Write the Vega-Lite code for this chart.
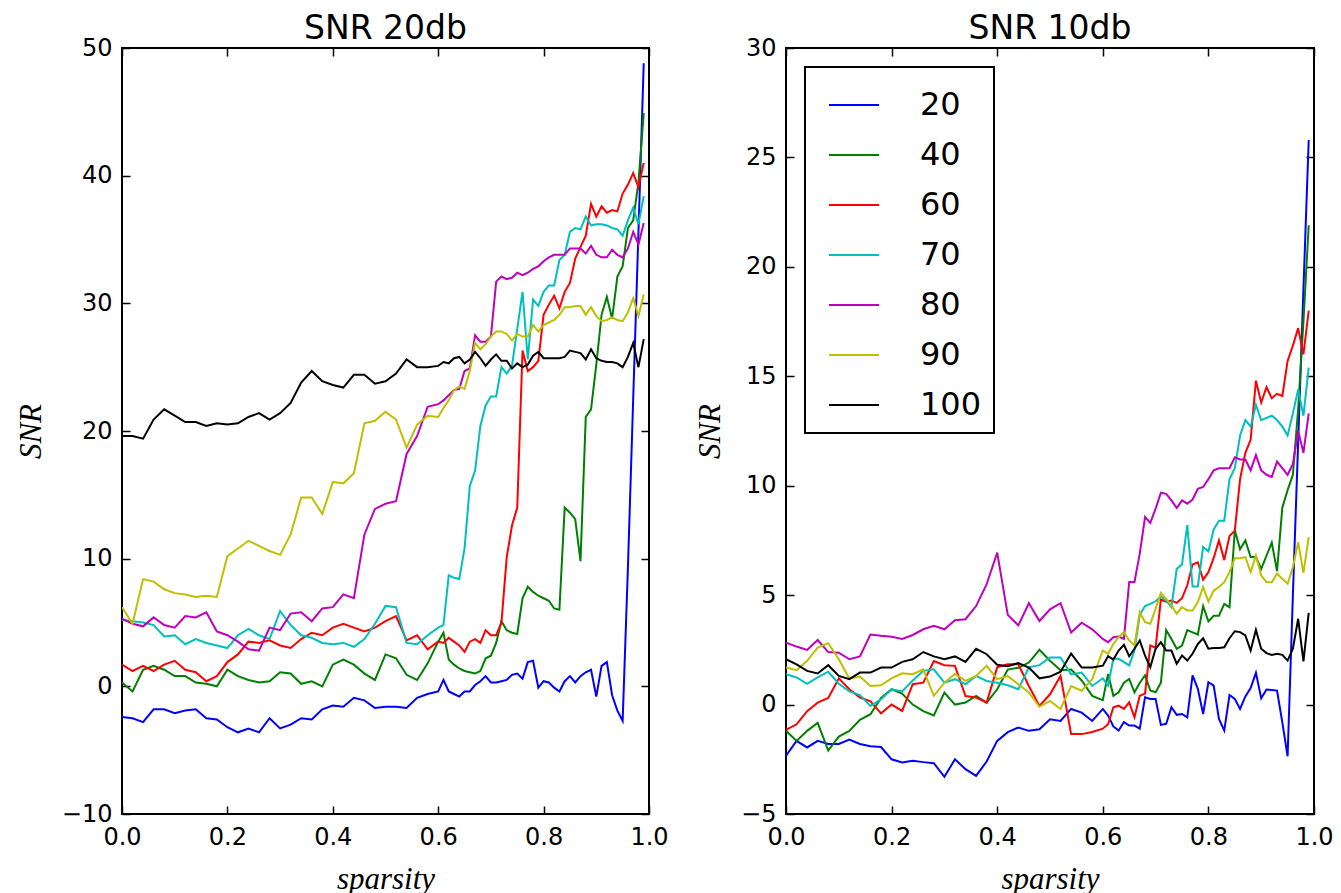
{
"$schema": "https://vega.github.io/schema/vega-lite/v6.json",
"background": "white",
"padding": {"left": 14, "top": 12, "right": 0, "bottom": 0},
"spacing": 23,
"datasets": {
"L": [
{"s":0.00,"n20":-2.4,"n40":0.3,"n60":1.7,"n70":5.2,"n80":5.3,"n90":6.2,"n100":19.6},
{"s":0.02,"n20":-2.5,"n40":-0.4,"n60":1.2,"n70":5.1,"n80":4.9,"n90":4.9,"n100":19.6},
{"s":0.04,"n20":-2.8,"n40":1.3,"n60":1.6,"n70":5.0,"n80":4.7,"n90":8.4,"n100":19.4},
{"s":0.06,"n20":-1.8,"n40":1.6,"n60":1.2,"n70":4.8,"n80":5.4,"n90":8.2,"n100":20.9},
{"s":0.08,"n20":-1.8,"n40":1.3,"n60":1.7,"n70":3.9,"n80":4.8,"n90":7.6,"n100":21.7},
{"s":0.10,"n20":-2.1,"n40":0.8,"n60":2.0,"n70":4.0,"n80":4.6,"n90":7.3,"n100":21.2},
{"s":0.12,"n20":-1.9,"n40":0.8,"n60":1.3,"n70":3.3,"n80":5.5,"n90":7.2,"n100":20.7},
{"s":0.14,"n20":-1.8,"n40":0.3,"n60":1.1,"n70":3.7,"n80":5.4,"n90":7.0,"n100":20.7},
{"s":0.16,"n20":-2.5,"n40":0.2,"n60":0.4,"n70":3.4,"n80":5.8,"n90":7.1,"n100":20.4},
{"s":0.18,"n20":-2.6,"n40":0.0,"n60":0.8,"n70":3.2,"n80":4.3,"n90":7.0,"n100":20.6},
{"s":0.20,"n20":-3.2,"n40":1.3,"n60":1.9,"n70":3.0,"n80":4.0,"n90":10.2,"n100":20.5},
{"s":0.22,"n20":-3.6,"n40":0.8,"n60":2.5,"n70":4.0,"n80":3.5,"n90":10.8,"n100":20.6},
{"s":0.24,"n20":-3.3,"n40":0.5,"n60":3.5,"n70":4.5,"n80":2.9,"n90":11.4,"n100":21.1},
{"s":0.26,"n20":-3.6,"n40":0.3,"n60":3.4,"n70":4.0,"n80":2.8,"n90":11.0,"n100":21.4},
{"s":0.28,"n20":-2.5,"n40":0.4,"n60":3.6,"n70":3.7,"n80":4.6,"n90":10.6,"n100":20.9},
{"s":0.30,"n20":-3.3,"n40":1.1,"n60":3.2,"n70":5.9,"n80":4.4,"n90":10.3,"n100":21.4},
{"s":0.32,"n20":-3.0,"n40":1.0,"n60":3.0,"n70":4.8,"n80":5.7,"n90":11.9,"n100":22.2},
{"s":0.34,"n20":-2.5,"n40":0.2,"n60":3.7,"n70":4.0,"n80":5.8,"n90":14.8,"n100":23.8},
{"s":0.36,"n20":-2.6,"n40":0.4,"n60":4.2,"n70":3.8,"n80":5.1,"n90":14.8,"n100":24.7},
{"s":0.38,"n20":-1.8,"n40":0.0,"n60":4.0,"n70":3.4,"n80":6.1,"n90":13.5,"n100":23.9},
{"s":0.40,"n20":-1.5,"n40":1.7,"n60":4.6,"n70":3.3,"n80":6.2,"n90":16.0,"n100":23.6},
{"s":0.42,"n20":-1.6,"n40":2.1,"n60":4.9,"n70":3.4,"n80":7.2,"n90":15.9,"n100":23.4},
{"s":0.44,"n20":-0.9,"n40":1.7,"n60":4.6,"n70":3.1,"n80":6.9,"n90":16.7,"n100":24.4},
{"s":0.46,"n20":-1.1,"n40":1.0,"n60":4.3,"n70":3.7,"n80":11.9,"n90":20.6,"n100":24.4},
{"s":0.48,"n20":-1.7,"n40":0.5,"n60":4.6,"n70":4.9,"n80":13.9,"n90":20.8,"n100":23.7},
{"s":0.50,"n20":-1.6,"n40":2.5,"n60":5.1,"n70":6.3,"n80":14.3,"n90":21.5,"n100":23.9},
{"s":0.52,"n20":-1.6,"n40":2.2,"n60":5.5,"n70":6.2,"n80":14.5,"n90":20.9,"n100":24.5},
{"s":0.54,"n20":-1.7,"n40":0.9,"n60":3.6,"n70":3.4,"n80":18.2,"n90":18.7,"n100":25.6},
{"s":0.56,"n20":-0.9,"n40":0.5,"n60":4.0,"n70":3.3,"n80":19.6,"n90":20.5,"n100":25.0},
{"s":0.58,"n20":-0.6,"n40":1.8,"n60":2.9,"n70":4.0,"n80":21.9,"n90":21.2,"n100":25.0},
{"s":0.60,"n20":-0.4,"n40":3.5,"n60":3.5,"n70":4.6,"n80":22.1,"n90":21.1,"n100":25.1},
{"s":0.61,"n20":0.5,"n40":4.2,"n60":3.4,"n70":4.8,"n80":22.4,"n90":21.8,"n100":25.4},
{"s":0.62,"n20":-0.4,"n40":2.1,"n60":3.8,"n70":8.7,"n80":22.8,"n90":22.4,"n100":25.3},
{"s":0.63,"n20":-0.6,"n40":1.7,"n60":3.5,"n70":8.5,"n80":23.2,"n90":23.2,"n100":25.7},
{"s":0.64,"n20":-0.8,"n40":1.4,"n60":3.2,"n70":8.4,"n80":23.3,"n90":23.5,"n100":25.8},
{"s":0.65,"n20":-0.4,"n40":1.2,"n60":2.7,"n70":10.8,"n80":24.7,"n90":23.3,"n100":25.3},
{"s":0.66,"n20":-0.4,"n40":1.1,"n60":3.5,"n70":15.7,"n80":24.9,"n90":24.7,"n100":25.6},
{"s":0.67,"n20":0.1,"n40":1.0,"n60":3.7,"n70":16.9,"n80":27.5,"n90":26.9,"n100":26.2},
{"s":0.68,"n20":0.4,"n40":1.2,"n60":3.4,"n70":20.4,"n80":27.0,"n90":26.4,"n100":25.7},
{"s":0.69,"n20":0.8,"n40":2.2,"n60":4.4,"n70":22.0,"n80":27.0,"n90":26.8,"n100":25.1},
{"s":0.70,"n20":0.3,"n40":2.4,"n60":4.0,"n70":22.7,"n80":27.4,"n90":27.4,"n100":25.6},
{"s":0.71,"n20":0.3,"n40":3.4,"n60":4.0,"n70":22.7,"n80":31.7,"n90":27.8,"n100":26.0},
{"s":0.72,"n20":0.4,"n40":5.1,"n60":5.0,"n70":25.0,"n80":32.1,"n90":27.8,"n100":25.5},
{"s":0.73,"n20":0.5,"n40":4.4,"n60":10.1,"n70":24.5,"n80":31.9,"n90":27.6,"n100":25.5},
{"s":0.74,"n20":0.9,"n40":4.2,"n60":12.6,"n70":25.1,"n80":32.0,"n90":27.1,"n100":24.9},
{"s":0.75,"n20":1.0,"n40":4.1,"n60":14.0,"n70":28.0,"n80":32.4,"n90":27.6,"n100":25.3},
{"s":0.76,"n20":0.6,"n40":6.9,"n60":26.3,"n70":30.9,"n80":32.2,"n90":27.4,"n100":25.0},
{"s":0.77,"n20":1.9,"n40":7.8,"n60":24.7,"n70":25.6,"n80":32.4,"n90":27.4,"n100":25.2},
{"s":0.78,"n20":2.0,"n40":7.4,"n60":25.0,"n70":30.3,"n80":32.7,"n90":28.3,"n100":25.9},
{"s":0.79,"n20":-0.1,"n40":7.1,"n60":25.5,"n70":29.8,"n80":32.9,"n90":27.8,"n100":26.2},
{"s":0.80,"n20":0.4,"n40":6.9,"n60":29.1,"n70":30.9,"n80":33.3,"n90":28.3,"n100":25.7},
{"s":0.81,"n20":0.3,"n40":6.7,"n60":29.9,"n70":31.4,"n80":33.6,"n90":28.5,"n100":25.7},
{"s":0.82,"n20":-0.1,"n40":6.1,"n60":30.6,"n70":31.4,"n80":33.8,"n90":28.7,"n100":25.7},
{"s":0.83,"n20":-0.4,"n40":6.0,"n60":29.6,"n70":33.4,"n80":33.8,"n90":29.1,"n100":25.7},
{"s":0.84,"n20":0.4,"n40":14.0,"n60":30.9,"n70":33.8,"n80":33.8,"n90":29.7,"n100":25.8},
{"s":0.85,"n20":0.8,"n40":13.6,"n60":31.6,"n70":35.6,"n80":34.3,"n90":29.7,"n100":26.3},
{"s":0.86,"n20":0.3,"n40":13.1,"n60":33.5,"n70":35.9,"n80":34.3,"n90":29.8,"n100":26.2},
{"s":0.87,"n20":0.8,"n40":9.8,"n60":34.4,"n70":35.8,"n80":34.3,"n90":29.8,"n100":26.1},
{"s":0.88,"n20":1.1,"n40":21.1,"n60":35.3,"n70":36.8,"n80":33.9,"n90":29.1,"n100":25.6},
{"s":0.89,"n20":1.3,"n40":21.7,"n60":37.8,"n70":36.1,"n80":34.5,"n90":29.7,"n100":26.4},
{"s":0.90,"n20":-0.8,"n40":25.2,"n60":36.8,"n70":36.2,"n80":33.8,"n90":29.0,"n100":25.7},
{"s":0.91,"n20":1.6,"n40":29.1,"n60":37.6,"n70":36.2,"n80":33.6,"n90":28.6,"n100":25.5},
{"s":0.92,"n20":1.9,"n40":30.5,"n60":37.1,"n70":36.1,"n80":33.6,"n90":28.7,"n100":25.4},
{"s":0.93,"n20":-0.7,"n40":28.8,"n60":37.3,"n70":35.9,"n80":34.2,"n90":28.9,"n100":25.4},
{"s":0.94,"n20":-1.9,"n40":32.1,"n60":37.2,"n70":35.8,"n80":33.8,"n90":28.7,"n100":25.3},
{"s":0.95,"n20":-2.7,"n40":32.9,"n60":38.6,"n70":35.3,"n80":33.6,"n90":28.6,"n100":25.0},
{"s":0.96,"n20":9.3,"n40":35.9,"n60":39.3,"n70":36.5,"n80":34.3,"n90":29.3,"n100":25.8},
{"s":0.97,"n20":22.5,"n40":36.5,"n60":40.2,"n70":37.5,"n80":35.6,"n90":30.4,"n100":26.9},
{"s":0.98,"n20":35.6,"n40":39.5,"n60":39.1,"n70":36.2,"n80":34.6,"n90":29.0,"n100":25.0},
{"s":0.99,"n20":48.8,"n40":44.9,"n60":41.0,"n70":38.4,"n80":36.3,"n90":30.7,"n100":27.2}
],
"R": [
{"s":0.00,"n20":-2.34,"n40":-1.2,"n60":-1.16,"n70":1.39,"n80":2.83,"n90":1.69,"n100":2.07},
{"s":0.02,"n20":-1.66,"n40":-1.66,"n60":-0.9,"n70":1.24,"n80":2.65,"n90":1.57,"n100":1.84},
{"s":0.04,"n20":-1.96,"n40":-1.2,"n60":-0.3,"n70":0.95,"n80":2.5,"n90":2.0,"n100":1.54},
{"s":0.06,"n20":-1.66,"n40":-0.84,"n60":0.09,"n70":1.24,"n80":2.95,"n90":2.6,"n100":1.42},
{"s":0.08,"n20":-1.8,"n40":-2.1,"n60":0.3,"n70":1.5,"n80":2.4,"n90":2.8,"n100":1.8},
{"s":0.10,"n20":-1.8,"n40":-1.46,"n60":1.2,"n70":0.95,"n80":2.37,"n90":2.07,"n100":1.31},
{"s":0.12,"n20":-1.6,"n40":-1.2,"n60":0.7,"n70":0.6,"n80":2.07,"n90":1.19,"n100":1.16},
{"s":0.14,"n20":-1.8,"n40":-0.7,"n60":0.32,"n70":0.43,"n80":2.2,"n90":1.28,"n100":1.46},
{"s":0.16,"n20":-1.9,"n40":-0.44,"n60":0.15,"n70":-0.06,"n80":3.2,"n90":0.85,"n100":1.46},
{"s":0.18,"n20":-1.94,"n40":0.3,"n60":-0.4,"n70":0.24,"n80":3.14,"n90":0.88,"n100":1.69},
{"s":0.20,"n20":-2.5,"n40":0.7,"n60":0.0,"n70":0.7,"n80":3.1,"n90":1.2,"n100":1.69},
{"s":0.22,"n20":-2.65,"n40":0.5,"n60":-0.29,"n70":0.6,"n80":3.0,"n90":1.43,"n100":1.95},
{"s":0.24,"n20":-2.57,"n40":0.0,"n60":0.93,"n70":1.1,"n80":3.18,"n90":1.39,"n100":2.07},
{"s":0.26,"n20":-2.63,"n40":-0.3,"n60":1.0,"n70":1.54,"n80":3.44,"n90":1.61,"n100":2.4},
{"s":0.28,"n20":-2.68,"n40":-0.5,"n60":1.99,"n70":1.61,"n80":3.6,"n90":0.4,"n100":2.2},
{"s":0.30,"n20":-3.3,"n40":0.55,"n60":1.8,"n70":1.0,"n80":3.44,"n90":1.0,"n100":2.07},
{"s":0.32,"n20":-2.5,"n40":0.0,"n60":1.77,"n70":1.16,"n80":3.85,"n90":1.4,"n100":2.2},
{"s":0.34,"n20":-2.95,"n40":0.09,"n60":0.39,"n70":0.93,"n80":3.9,"n90":1.08,"n100":1.95},
{"s":0.36,"n20":-3.26,"n40":0.4,"n60":0.32,"n70":1.31,"n80":4.5,"n90":1.31,"n100":2.55},
{"s":0.38,"n20":-2.6,"n40":0.09,"n60":0.09,"n70":1.08,"n80":5.5,"n90":1.77,"n100":2.3},
{"s":0.40,"n20":-1.66,"n40":0.7,"n60":1.7,"n70":1.0,"n80":6.94,"n90":1.16,"n100":1.82},
{"s":0.42,"n20":-1.26,"n40":1.6,"n60":1.84,"n70":0.88,"n80":4.1,"n90":1.3,"n100":1.75},
{"s":0.44,"n20":-1.05,"n40":1.68,"n60":1.84,"n70":0.7,"n80":3.62,"n90":0.93,"n100":1.9},
{"s":0.46,"n20":-1.2,"n40":1.92,"n60":0.85,"n70":1.7,"n80":4.63,"n90":0.55,"n100":1.69},
{"s":0.48,"n20":-1.13,"n40":2.5,"n60":-0.06,"n70":1.8,"n80":3.82,"n90":-0.1,"n100":1.2},
{"s":0.50,"n20":-0.67,"n40":2.0,"n60":0.47,"n70":2.15,"n80":4.35,"n90":0.17,"n100":1.28},
{"s":0.52,"n20":-0.75,"n40":1.57,"n60":1.31,"n70":2.15,"n80":4.63,"n90":-0.2,"n100":1.5},
{"s":0.54,"n20":-0.2,"n40":1.6,"n60":-1.35,"n70":1.38,"n80":3.29,"n90":0.85,"n100":2.33},
{"s":0.56,"n20":-0.37,"n40":1.1,"n60":-1.35,"n70":1.46,"n80":3.74,"n90":0.63,"n100":1.69},
{"s":0.58,"n20":-0.75,"n40":0.4,"n60":-1.25,"n70":0.85,"n80":3.44,"n90":1.16,"n100":1.69},
{"s":0.60,"n20":-0.2,"n40":0.2,"n60":-1.1,"n70":1.2,"n80":3.0,"n90":2.47,"n100":1.78},
{"s":0.61,"n20":-0.5,"n40":1.4,"n60":-0.9,"n70":0.87,"n80":2.85,"n90":2.32,"n100":2.21},
{"s":0.62,"n20":-1.0,"n40":0.4,"n60":-0.12,"n70":2.09,"n80":3.08,"n90":2.77,"n100":2.06},
{"s":0.63,"n20":-1.19,"n40":0.56,"n60":-0.05,"n70":2.09,"n80":3.11,"n90":3.08,"n100":2.47},
{"s":0.64,"n20":-0.8,"n40":1.0,"n60":-0.2,"n70":1.94,"n80":3.0,"n90":3.31,"n100":2.73},
{"s":0.65,"n20":-0.96,"n40":1.17,"n60":0.1,"n70":1.79,"n80":5.6,"n90":2.93,"n100":2.21},
{"s":0.66,"n20":-0.96,"n40":0.56,"n60":-0.58,"n70":2.47,"n80":5.6,"n90":2.7,"n100":2.55},
{"s":0.67,"n20":-1.1,"n40":1.0,"n60":0.4,"n70":4.1,"n80":6.9,"n90":4.22,"n100":2.93},
{"s":0.68,"n20":0.33,"n40":1.33,"n60":0.5,"n70":4.5,"n80":8.57,"n90":3.77,"n100":2.24},
{"s":0.69,"n20":0.26,"n40":0.64,"n60":2.7,"n70":4.6,"n80":8.3,"n90":3.69,"n100":1.71},
{"s":0.70,"n20":0.26,"n40":0.56,"n60":2.6,"n70":4.72,"n80":8.95,"n90":4.38,"n100":2.55},
{"s":0.71,"n20":-0.93,"n40":1.0,"n60":4.8,"n70":4.95,"n80":9.68,"n90":5.1,"n100":2.85},
{"s":0.72,"n20":-0.88,"n40":3.4,"n60":4.7,"n70":4.75,"n80":9.63,"n90":4.83,"n100":2.47},
{"s":0.73,"n20":-0.12,"n40":3.0,"n60":4.75,"n70":4.45,"n80":9.33,"n90":4.53,"n100":2.47},
{"s":0.74,"n20":-0.47,"n40":2.55,"n60":4.65,"n70":6.2,"n80":8.98,"n90":4.15,"n100":1.86},
{"s":0.75,"n20":-0.43,"n40":2.7,"n60":4.86,"n70":6.4,"n80":9.33,"n90":4.45,"n100":2.24},
{"s":0.76,"n20":-0.58,"n40":3.4,"n60":5.45,"n70":8.2,"n80":9.18,"n90":4.3,"n100":2.01},
{"s":0.77,"n20":1.33,"n40":3.3,"n60":6.4,"n70":5.4,"n80":9.37,"n90":4.3,"n100":2.32},
{"s":0.78,"n20":0.72,"n40":3.2,"n60":6.5,"n70":5.4,"n80":9.86,"n90":4.68,"n100":2.77},
{"s":0.79,"n20":-0.43,"n40":4.5,"n60":5.7,"n70":7.2,"n80":9.94,"n90":5.37,"n100":3.03},
{"s":0.80,"n20":1.02,"n40":3.8,"n60":6.05,"n70":7.0,"n80":10.3,"n90":4.71,"n100":2.55},
{"s":0.81,"n20":0.87,"n40":4.06,"n60":6.7,"n70":8.0,"n80":10.7,"n90":5.21,"n100":2.58},
{"s":0.82,"n20":-0.66,"n40":4.06,"n60":7.5,"n70":8.4,"n80":10.8,"n90":5.37,"n100":2.58},
{"s":0.83,"n20":-1.19,"n40":4.6,"n60":6.6,"n70":8.4,"n80":10.8,"n90":5.59,"n100":2.62},
{"s":0.84,"n20":0.44,"n40":4.45,"n60":7.7,"n70":10.3,"n80":10.8,"n90":6.05,"n100":3.03},
{"s":0.85,"n20":0.26,"n40":7.96,"n60":7.95,"n70":10.8,"n80":11.3,"n90":6.69,"n100":3.35},
{"s":0.86,"n20":-0.2,"n40":7.1,"n60":10.3,"n70":12.3,"n80":11.2,"n90":6.69,"n100":3.31},
{"s":0.87,"n20":0.37,"n40":7.5,"n60":11.5,"n70":13.0,"n80":11.2,"n90":6.74,"n100":3.16},
{"s":0.88,"n20":0.75,"n40":6.74,"n60":12.1,"n70":12.7,"n80":10.7,"n90":6.05,"n100":2.47},
{"s":0.89,"n20":1.45,"n40":6.74,"n60":14.8,"n70":13.7,"n80":11.4,"n90":6.81,"n100":3.41},
{"s":0.90,"n20":0.29,"n40":6.2,"n60":13.8,"n70":13.0,"n80":10.7,"n90":5.9,"n100":2.55},
{"s":0.91,"n20":0.69,"n40":6.8,"n60":14.5,"n70":13.1,"n80":10.5,"n90":5.59,"n100":2.35},
{"s":0.92,"n20":0.67,"n40":7.4,"n60":14.0,"n70":13.2,"n80":10.4,"n90":5.59,"n100":2.27},
{"s":0.93,"n20":0.64,"n40":6.1,"n60":14.2,"n70":13.0,"n80":11.1,"n90":5.98,"n100":2.32},
{"s":0.94,"n20":-0.81,"n40":9.0,"n60":14.1,"n70":12.7,"n80":10.8,"n90":5.75,"n100":2.27},
{"s":0.95,"n20":-2.36,"n40":9.8,"n60":15.7,"n70":12.3,"n80":10.5,"n90":5.52,"n100":2.01},
{"s":0.96,"n20":5.0,"n40":10.5,"n60":16.4,"n70":13.3,"n80":11.0,"n90":6.28,"n100":2.55},
{"s":0.97,"n20":12.0,"n40":13.5,"n60":17.2,"n70":14.4,"n80":12.5,"n90":7.42,"n100":3.92},
{"s":0.98,"n20":19.0,"n40":17.5,"n60":16.0,"n70":13.2,"n80":11.5,"n90":6.02,"n100":1.97},
{"s":0.99,"n20":25.8,"n40":21.9,"n60":18.0,"n70":15.4,"n80":13.3,"n90":7.65,"n100":4.19}
]
},
"hconcat": [
{
"width": 527, "height": 766,
"title": {"text": "SNR 20db"},
"data": {"name": "L"},
"transform": [{"fold": ["n20","n40","n60","n70","n80","n90","n100"], "as": ["n","snr"]}],
"layer": [
{"mark": {"type": "line", "strokeWidth": 2, "clip": true},
"encoding": {
"x": {"field": "s", "type": "quantitative", "scale": {"domain": [0,1], "nice": false, "zero": false}, "axis": {"values": [0,0.2,0.4,0.6,0.8,1], "format": ".1f", "title": "sparsity"}},
"y": {"field": "snr", "type": "quantitative", "scale": {"domain": [-10,50], "nice": false, "zero": false}, "axis": {"values": [-10,0,10,20,30,40,50], "format": "d", "title": "SNR"}},
"color": {"field": "n", "type": "nominal", "scale": {"domain": ["n20","n40","n60","n70","n80","n90","n100"], "range": ["#0000ff","#008000","#ff0000","#00bfbf","#bf00bf","#bfbf00","#000000"]}, "legend": null}
}},
{"mark": {"type": "point", "opacity": 0},
"encoding": {
"x": {"field": "s", "type": "quantitative", "scale": {"domain": [0,1], "nice": false, "zero": false}, "axis": {"orient": "top", "values": [0,0.2,0.4,0.6,0.8,1], "labels": false, "title": null}},
"y": {"field": "snr", "type": "quantitative", "scale": {"domain": [-10,50], "nice": false, "zero": false}, "axis": {"orient": "right", "values": [-10,0,10,20,30,40,50], "labels": false, "title": null}}
}}
],
"resolve": {"axis": {"x": "independent", "y": "independent"}}
},
{
"width": 528, "height": 766,
"title": {"text": "SNR 10db"},
"data": {"name": "R"},
"transform": [{"fold": ["n20","n40","n60","n70","n80","n90","n100"], "as": ["n","snr"]}],
"layer": [
{"mark": {"type": "line", "strokeWidth": 2, "clip": true},
"encoding": {
"x": {"field": "s", "type": "quantitative", "scale": {"domain": [0,1], "nice": false, "zero": false}, "axis": {"values": [0,0.2,0.4,0.6,0.8,1], "format": ".1f", "title": "sparsity"}},
"y": {"field": "snr", "type": "quantitative", "scale": {"domain": [-5,30], "nice": false, "zero": false}, "axis": {"values": [-5,0,5,10,15,20,25,30], "format": "d", "title": "SNR"}},
"color": {"field": "n", "type": "nominal", "scale": {"domain": ["n20","n40","n60","n70","n80","n90","n100"], "range": ["#0000ff","#008000","#ff0000","#00bfbf","#bf00bf","#bfbf00","#000000"]},
"legend": {"orient": "top-left", "offset": 19, "title": null, "labelExpr": "replace(datum.label, 'n', '')", "symbolType": "stroke", "symbolSize": 2500, "symbolStrokeWidth": 2, "labelFontSize": 32, "labelFont": "DejaVu Sans", "labelColor": "black", "labelOffset": 40, "rowPadding": 8, "padding": 12, "symbolOffset": 11, "strokeColor": "black", "fillColor": "white", "cornerRadius": 0}}
}},
{"mark": {"type": "point", "opacity": 0},
"encoding": {
"x": {"field": "s", "type": "quantitative", "scale": {"domain": [0,1], "nice": false, "zero": false}, "axis": {"orient": "top", "values": [0,0.2,0.4,0.6,0.8,1], "labels": false, "title": null}},
"y": {"field": "snr", "type": "quantitative", "scale": {"domain": [-5,30], "nice": false, "zero": false}, "axis": {"orient": "right", "values": [-5,0,5,10,15,20,25,30], "labels": false, "title": null}}
}}
],
"resolve": {"axis": {"x": "independent", "y": "independent"}}
}
],
"resolve": {"scale": {"color": "independent"}, "legend": {"color": "independent"}},
"config": {
"font": "DejaVu Sans",
"view": {"stroke": "black", "strokeWidth": 2},
"legend": {"strokeWidth": 2},
"axis": {"domain": false, "grid": false, "tickColor": "black", "tickSize": -8, "tickWidth": 1.5, "labelFont": "DejaVu Sans", "labelFontSize": 24, "labelColor": "black", "labelFlush": false, "labelOverlap": false, "titleFont": "Liberation Serif", "titleFontStyle": "italic", "titleFontWeight": "normal", "titleFontSize": 31, "titleColor": "black"},
"axisX": {"labelPadding": 19, "titlePadding": 15},
"axisY": {"labelPadding": 18, "titlePadding": 14},
"title": {"font": "DejaVu Sans", "fontSize": 33, "fontWeight": "normal", "color": "black", "offset": -10}
}
}
